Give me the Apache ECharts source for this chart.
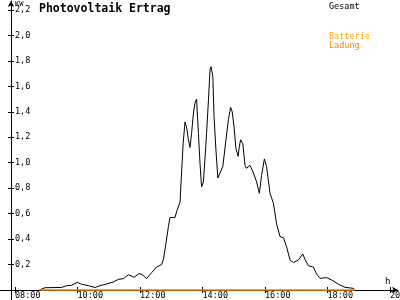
<!DOCTYPE html>
<html>
<head>
<meta charset="utf-8">
<script src="https://cdn.jsdelivr.net/npm/echarts@6/dist/echarts.min.js"></script>
<style>html,body{margin:0;padding:0;background:#fff}#c{width:400px;height:300px}</style>
</head>
<body>
<div id="c"></div>
<script>
// time of day in decimal hours
var gesamtHours = [8.78,8.96,9.49,9.65,9.81,9.99,10.13,10.35,10.56,10.72,10.93,11.15,11.31,11.47,11.63,11.73,11.81,11.97,12.07,12.21,12.37,12.53,12.69,12.75,12.83,12.91,12.96,13.12,13.19,13.28,13.33,13.38,13.44,13.49,13.55,13.60,13.65,13.71,13.76,13.81,13.87,13.92,13.97,14.03,14.13,14.19,14.24,14.27,14.33,14.37,14.43,14.49,14.54,14.65,14.75,14.83,14.90,14.95,15.01,15.07,15.14,15.18,15.22,15.29,15.36,15.41,15.52,15.63,15.73,15.82,15.89,15.98,16.05,16.16,16.27,16.37,16.48,16.59,16.69,16.80,16.91,17.07,17.21,17.28,17.39,17.55,17.65,17.76,17.97,18.13,18.35,18.56,18.83,18.88];
var gesamtKW = [0,0.018,0.02,0.034,0.037,0.06,0.045,0.034,0.02,0.034,0.047,0.063,0.084,0.089,0.12,0.11,0.10,0.13,0.12,0.09,0.136,0.18,0.20,0.24,0.367,0.50,0.57,0.57,0.63,0.69,0.92,1.15,1.32,1.28,1.18,1.12,1.23,1.39,1.47,1.50,1.23,0.995,0.81,0.85,1.23,1.49,1.73,1.755,1.68,1.36,1.10,0.88,0.88,0.97,1.18,1.34,1.435,1.40,1.28,1.11,1.05,1.13,1.18,1.15,0.98,0.956,0.98,0.92,0.85,0.76,0.90,1.03,0.97,0.76,0.68,0.52,0.42,0.41,0.34,0.236,0.215,0.236,0.283,0.24,0.19,0.18,0.126,0.092,0.097,0.079,0.045,0.021,0.013,0];
var ladungHours = [8.78, 18.88];
var ladungKW = [0, 0];
var xTickValues = [8,10,12,14,16,18,20];
var yTickValues = [0.2,0.4,0.6,0.8,1.0,1.2,1.4,1.6,1.8,2.0,2.2];
var titleText = 'Photovoltaik Ertrag';
var legendNames = ['Gesamt','Batterie','Ladung'];

function pairs(a,b){return a.map(function(v,i){return [v,b[i]];});}
function hhmm(v){var h=Math.round(v);return (h<10?'0':'')+h+':00';}
function dec(v){return v.toFixed(1).replace('.',',');}

var mono = 'DejaVu Sans Mono';
var xMin = 7.52, xMax = 20.256, yMin = 0, yMax = 2.2707;

function txt(t,l,tp,size,color,weight){
  return {text:t,left:l,top:tp,padding:0,textStyle:{fontFamily:mono,fontWeight:weight||'normal',fontSize:size,color:color}};
}

var chart = echarts.init(document.getElementById('c'), null, {renderer:'canvas'});
chart.setOption({
  animation:false,
  backgroundColor:'#fff',
  grid:[
    {left:0,right:2,top:1,bottom:10,containLabel:false,outerBoundsMode:'none'},
    {left:0,right:2,top:290,bottom:0,containLabel:false,outerBoundsMode:'none'}
  ],
  title:[
    txt(titleText,39,3,11.5,'#000','bold'),
    txt(legendNames[0],329,2,8.5,'#000'),
    txt(legendNames[1],329,32,8.5,'#ffa500'),
    txt(legendNames[2],329,41,8.5,'#ff8000'),
    txt('KW',15,1,7,'#000'),
    txt('h',385,277,9,'#000')
  ],
  xAxis:[
    {type:'value',gridIndex:0,min:xMin,max:xMax,position:'bottom',
     axisLine:{onZero:false,lineStyle:{color:'#000',width:1},symbol:['none','arrow'],symbolSize:[5,6]},
     axisTick:{show:true,inside:true,length:3,customValues:xTickValues,lineStyle:{color:'#000'}},
     axisLabel:{show:true,customValues:xTickValues,formatter:hhmm,align:'left',margin:2,lineHeight:8,
                showMinLabel:true,showMaxLabel:true,hideOverlap:false,fontFamily:mono,fontSize:8.5,color:'#000'},
     splitLine:{show:false}},
    {type:'value',gridIndex:0,min:xMin,max:xMax,position:'bottom',
     axisLine:{show:false,onZero:false},
     axisTick:{show:true,inside:false,length:3,customValues:xTickValues,lineStyle:{color:'#000'}},
     axisLabel:{show:false},splitLine:{show:false}},
    {type:'value',gridIndex:1,min:xMin,max:xMax,show:false}
  ],
  yAxis:[
    {type:'value',gridIndex:0,min:yMin,max:yMax,position:'left',offset:-11,
     axisLine:{show:true,onZero:false,lineStyle:{color:'#000',width:1},symbol:['none','arrow'],symbolSize:[5,6]},
     axisTick:{show:true,inside:true,length:3,customValues:yTickValues,lineStyle:{color:'#000'}},
     axisLabel:{show:true,inside:true,customValues:yTickValues,formatter:dec,margin:4,fontFamily:mono,fontSize:8.5,color:'#000'},
     splitLine:{show:false}},
    {type:'value',gridIndex:0,min:yMin,max:yMax,position:'left',offset:-11,
     axisLine:{show:false,onZero:false},
     axisTick:{show:true,inside:false,length:3,customValues:yTickValues,lineStyle:{color:'#000'}},
     axisLabel:{show:false},splitLine:{show:false}},
    {type:'value',gridIndex:1,min:0,max:1,position:'left',offset:-11,
     axisLine:{show:true,onZero:false,lineStyle:{color:'#000',width:1}},
     axisTick:{show:false},axisLabel:{show:false},splitLine:{show:false}}
  ],
  series:[
    {name:legendNames[0],type:'line',xAxisIndex:0,yAxisIndex:0,data:pairs(gesamtHours,gesamtKW),
     showSymbol:false,symbol:'none',clip:false,lineStyle:{color:'#000',width:1},itemStyle:{color:'#000'}},
    {name:legendNames[2],type:'line',xAxisIndex:0,yAxisIndex:0,data:pairs(ladungHours,ladungKW),
     showSymbol:false,symbol:'none',clip:false,lineStyle:{color:'#ff8000',width:1.5},itemStyle:{color:'#ff8000'}}
  ]
});
</script>
</body>
</html>
